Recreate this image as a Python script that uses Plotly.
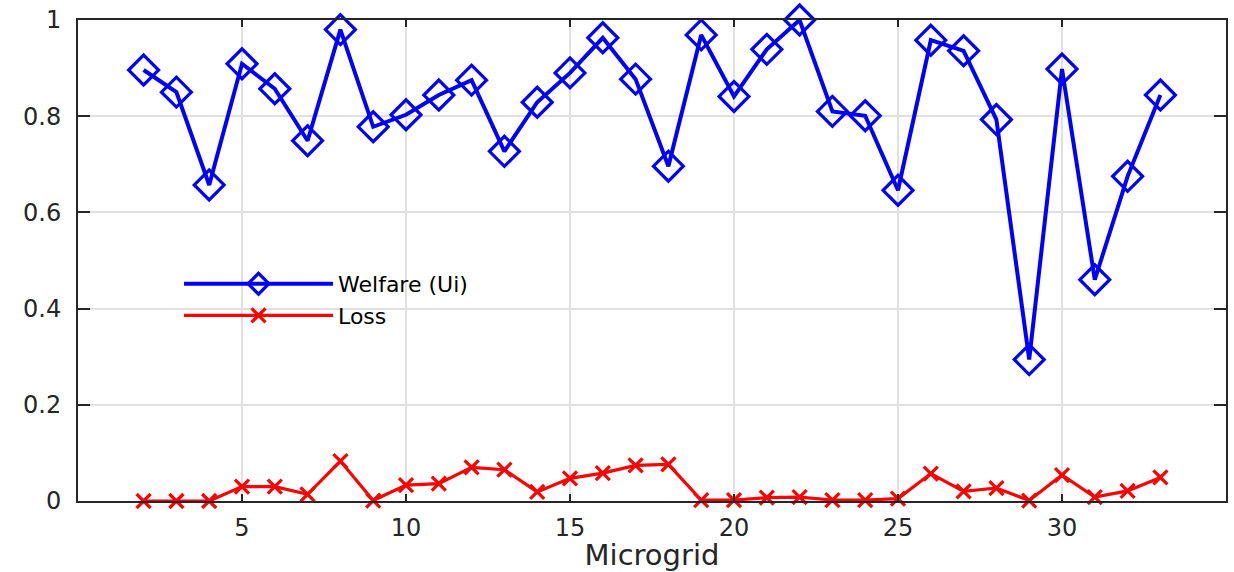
import plotly.graph_objects as go

microgrid = list(range(2, 34))
welfare = [0.896, 0.850, 0.657, 0.909, 0.857, 0.749, 0.980, 0.778, 0.803,
           0.844, 0.875, 0.727, 0.829, 0.890, 0.963, 0.877, 0.696, 0.969,
           0.841, 0.939, 1.000, 0.810, 0.801, 0.646, 0.958, 0.936, 0.793,
           0.294, 0.898, 0.460, 0.675, 0.844]
loss = [0.000, 0.000, 0.000, 0.030, 0.030, 0.014, 0.083, 0.001, 0.033,
        0.036, 0.070, 0.065, 0.019, 0.047, 0.058, 0.074, 0.076, 0.002,
        0.002, 0.007, 0.008, 0.002, 0.002, 0.005, 0.057, 0.020, 0.027,
        0.001, 0.054, 0.008, 0.021, 0.049]
x_ticks = [5, 10, 15, 20, 25, 30]
y_ticks = [0, 0.2, 0.4, 0.6, 0.8, 1]
y_tick_text = ["0", "0.2", "0.4", "0.6", "0.8", "1"]

FONT = "DejaVu Sans"

fig = go.Figure()
fig.add_trace(go.Scatter(
    x=microgrid, y=welfare, name="Welfare (Ui)", mode="lines+markers",
    line=dict(color="#0000FF", width=4),
    marker=dict(symbol="diamond-open", size=23, color="#0000FF",
                line=dict(color="#0000FF", width=3.2)),
    cliponaxis=False,
))
fig.add_trace(go.Scatter(
    x=microgrid, y=loss, name="Loss", mode="lines+markers",
    line=dict(color="#FF0000", width=3.2),
    marker=dict(symbol="x-thin-open", size=14, color="#FF0000",
                line=dict(color="#FF0000", width=3.2)),
    cliponaxis=False,
))

fig.update_layout(
    width=1234, height=572,
    margin=dict(l=78, r=6, t=16, b=71),
    paper_bgcolor="white", plot_bgcolor="white",
    font=dict(family=FONT, color="#262626", size=22),
    showlegend=True,
    legend=dict(
        x=0.088, y=0.418, xanchor="left", yanchor="middle",
        bgcolor="rgba(0,0,0,0)", borderwidth=0,
        font=dict(family=FONT, size=22, color="black"),
        itemwidth=149, tracegroupgap=0,
    ),
    xaxis=dict(
        range=[0, 35], tickvals=x_ticks, ticks="inside", ticklen=7,
        tickwidth=1.5, tickcolor="#262626", showline=True, linewidth=2,
        linecolor="#262626", mirror="ticks", showgrid=True,
        gridcolor="#e0e0e0", gridwidth=2, zeroline=False,
        tickfont=dict(family=FONT, size=24, color="#262626"),
        ticklabelstandoff=4,
        title=dict(text="Microgrid", font=dict(family=FONT, size=29, color="#262626"),
                   standoff=2),
    ),
    yaxis=dict(
        range=[0, 1], tickvals=y_ticks, ticktext=y_tick_text, ticks="inside",
        ticklen=12, tickwidth=1.5, tickcolor="#262626", showline=True,
        linewidth=2, linecolor="#262626", mirror="ticks", showgrid=True,
        gridcolor="#e0e0e0", gridwidth=2, zeroline=False,
        tickfont=dict(family=FONT, size=24, color="#262626"),
        ticklabelstandoff=10,
    ),
)

fig.write_html("out.html")
